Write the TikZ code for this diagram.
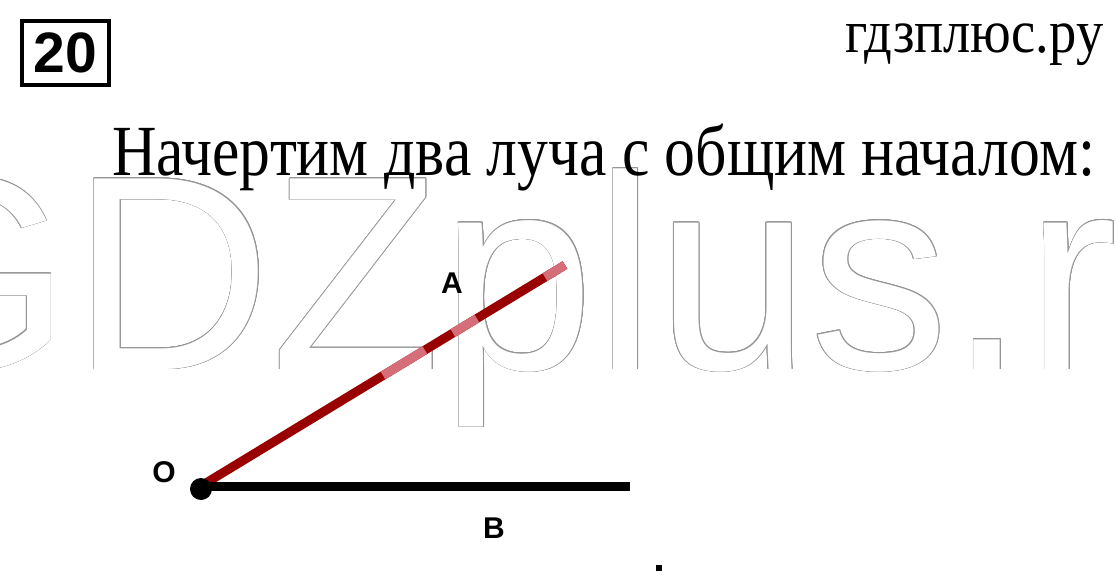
\documentclass[tikz,border=0pt]{standalone}
\usepackage{fontspec}
\usetikzlibrary{calc}
\setmainfont{Liberation Serif}
\newfontfamily\wmfont{Liberation Sans}
\newfontfamily\lblfont{Liberation Sans}
\definecolor{raydark}{RGB}{153,0,0}
\definecolor{raypink}{RGB}{214,110,122}
\definecolor{wmgray}{RGB}{150,150,150}
\begin{document}
\begin{tikzpicture}[x=1pt,y=-1pt,
  lbl/.style={font=\lblfont\bfseries\fontsize{30}{30}\selectfont, inner sep=0pt},
  wm/.style={font=\wmfont\fontsize{277}{277}\selectfont, inner sep=0pt, anchor=base west},
  rayline/.style={line width=9pt},
]
\useasboundingbox (0,0) rectangle (1116,586);
\fill[white] (0,0) rectangle (1116,586);
% watermark (outline imitation)
\foreach \a in {0,22.5,...,337.5}{
  \node[wm, text=wmgray] at ($(-144,369)+(\a:0.7)$) {GDZplus.r};
}
\node[wm, text=white] (wm) at (-144,369) {GDZplus.r};
% number box
\node[draw, line width=4pt, minimum width=87pt, minimum height=64pt, inner sep=0pt,
  font=\lblfont\bfseries\fontsize{57}{57}\selectfont] (num) at (65.5,53) {20};
% site name
\node[anchor=base west, inner sep=0pt] (site) at (845,53)
  {\resizebox{258pt}{\height}{\fontsize{61}{61}\selectfont гдзплюс.ру}};
% title
\node[anchor=base west, inner sep=0pt] (title) at (112,175)
  {\resizebox{983pt}{\height}{\fontsize{72}{72}\selectfont Начертим два луча с общим началом:}};
% rays
\coordinate (O) at (201,486);
\coordinate (Aend) at (565,265);
\coordinate (Bend) at (630,486);
\draw[rayline, raydark] (O) -- (Aend);
\draw[rayline, raypink] ($(O)!0.50!(Aend)$) -- ($(O)!0.615!(Aend)$);
\draw[rayline, raypink] ($(O)!0.692!(Aend)$) -- ($(O)!0.758!(Aend)$);
\draw[rayline, raypink] ($(O)!0.945!(Aend)$) -- (Aend);
\draw[line width=9pt] (O) -- (Bend);
\fill (201,489) circle (11pt);
\node[lbl] (lA) at (452,283) {A};
\node[lbl] (lO) at (164,472) {O};
\node[lbl] (lB) at (494,528) {B};
\fill (656,565) rectangle (662,571);
\end{tikzpicture}
\end{document}
